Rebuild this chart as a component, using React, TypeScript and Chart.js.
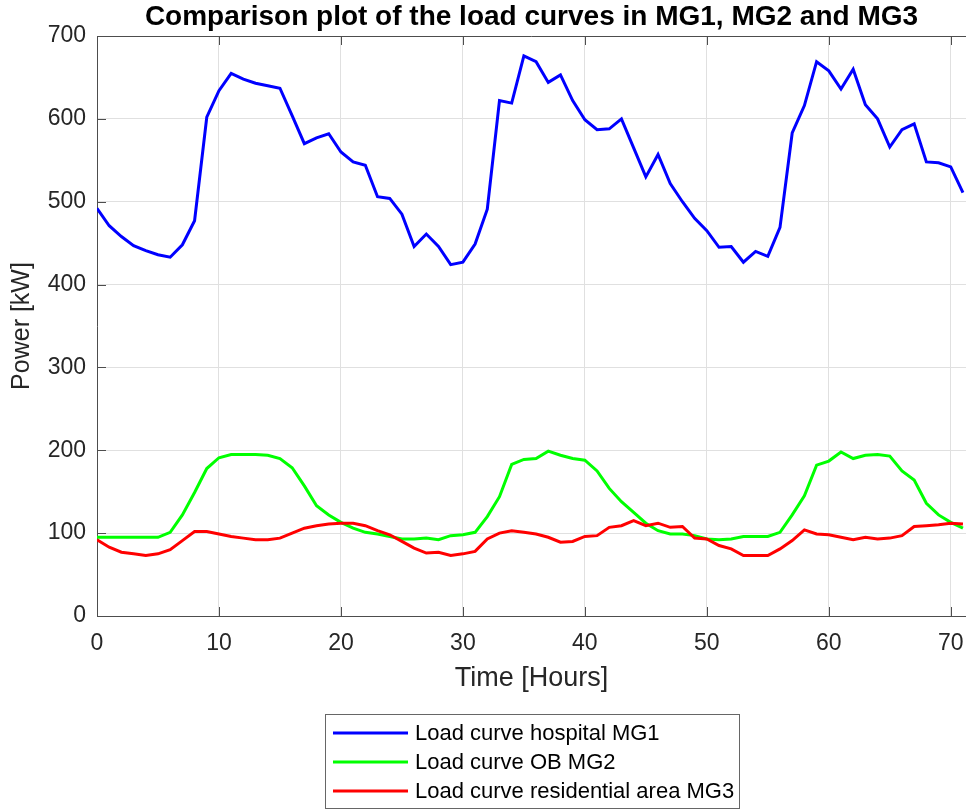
import React, { useEffect, useRef } from "react";
import { Chart, registerables } from "chart.js";

Chart.register(...registerables);

const hours = [
  0, 1, 2, 3, 4, 5, 6, 7, 8, 9, 10, 11, 12, 13, 14, 15, 16, 17, 18, 19, 20, 21, 22, 23,
  24, 25, 26, 27, 28, 29, 30, 31, 32, 33, 34, 35, 36, 37, 38, 39, 40, 41, 42, 43, 44, 45, 46, 47,
  48, 49, 50, 51, 52, 53, 54, 55, 56, 57, 58, 59, 60, 61, 62, 63, 64, 65, 66, 67, 68, 69, 70, 71,
];

const hospitalMG1 = [
  492, 471, 458, 447, 441, 436, 433, 448, 477, 602, 634, 655, 648, 643, 640, 637, 604, 570, 577, 582, 560, 548, 544, 506,
  504, 485, 446, 461, 446, 424, 427, 449, 491, 622, 619, 676, 669, 644, 653, 622, 599, 587, 588, 600, 565, 530, 557, 522,
  500, 480, 465, 445, 446, 427, 440, 434, 469, 583, 616, 669, 658, 636, 660, 617, 600, 566, 587, 594, 548, 547, 542, 511,
];

const officeMG2 = [
  95, 95, 95, 95, 95, 95, 101, 122, 149, 178, 191, 195, 195, 195, 194, 190, 179, 157, 133, 122, 113, 106, 101, 99,
  96, 93, 93, 94, 92, 97, 98, 101, 120, 144, 183, 189, 190, 199, 194, 190, 188, 175, 154, 138, 125, 112, 103, 99,
  99, 97, 93, 92, 93, 96, 96, 96, 101, 122, 145, 182, 187, 198, 190, 194, 195, 193, 175, 164, 136, 122, 113, 106,
];

const residentialMG3 = [
  92, 83, 77, 75, 73, 75, 80, 91, 102, 102, 99, 96, 94, 92, 92, 94, 100, 106, 109, 111, 112, 112, 109, 103,
  98, 90, 82, 76, 77, 73, 75, 78, 93, 100, 103, 101, 99, 95, 89, 90, 96, 97, 107, 109, 115, 109, 112, 107,
  108, 94, 93, 85, 81, 73, 73, 73, 81, 91, 104, 99, 98, 95, 92, 95, 93, 94, 97, 108, 109, 110, 112, 111,
];

const seriesLabels = [
  "Load curve hospital MG1",
  "Load curve OB MG2",
  "Load curve residential area MG3",
];

const chartTitle = "Comparison plot of the load curves in MG1, MG2 and MG3";

const xTickValues = [0, 10, 20, 30, 40, 50, 60, 70];
const yTickValues = [0, 100, 200, 300, 400, 500, 600, 700];

const FONT = "'Liberation Sans', Arial, Helvetica, sans-serif";
const AXIS_COLOR = "#4d4d4d";
const TEXT_COLOR = "#262626";
const GRID_COLOR = "#e0e0e0";

export default function App() {
  const ref = useRef<HTMLCanvasElement>(null);

  useEffect(() => {
    document.body.style.margin = "0";
    const canvas = ref.current;
    if (!canvas) return;

    const toPoints = (vals: number[]) => hours.map((h, i) => ({ x: h, y: vals[i] }));

    const boxPlugin = {
      id: "matlabBox",
      afterDatasetsDraw(chart: any) {
        const { ctx, chartArea: a, scales } = chart;
        ctx.save();
        ctx.strokeStyle = AXIS_COLOR;
        ctx.lineWidth = 1;
        ctx.beginPath();
        ctx.moveTo(a.left, a.top + 0.5);
        ctx.lineTo(a.right, a.top + 0.5);
        scales.x.ticks.forEach((t: any) => {
          const px = Math.round(scales.x.getPixelForValue(t.value)) + 0.5;
          ctx.moveTo(px, a.bottom);
          ctx.lineTo(px, a.bottom - 9);
          ctx.moveTo(px, a.top);
          ctx.lineTo(px, a.top + 9);
        });
        scales.y.ticks.forEach((t: any) => {
          const py = Math.round(scales.y.getPixelForValue(t.value)) + 0.5;
          ctx.moveTo(a.left, py);
          ctx.lineTo(a.left + 9, py);
        });
        ctx.stroke();
        ctx.restore();
      },
      afterDraw(chart: any) {
        const { ctx, chartArea: a } = chart;
        ctx.save();
        // title centred over the plot area
        ctx.fillStyle = "#000000";
        ctx.font = `bold 28px ${FONT}`;
        ctx.textAlign = "center";
        ctx.textBaseline = "middle";
        ctx.fillText(chartTitle, (a.left + a.right) / 2, 17);

        // legend box
        const bx = 325.5, by = 714.5, bw = 414, bh = 94;
        ctx.fillStyle = "#ffffff";
        ctx.fillRect(bx, by, bw, bh);
        ctx.strokeStyle = "#666666";
        ctx.lineWidth = 1;
        ctx.strokeRect(bx, by, bw, bh);
        ctx.font = `22px ${FONT}`;
        ctx.textBaseline = "middle";
        ctx.textAlign = "left";
        chart.data.datasets.forEach((ds: any, i: number) => {
          const y = 733 + i * 29;
          ctx.strokeStyle = ds.borderColor;
          ctx.lineWidth = 3;
          ctx.beginPath();
          ctx.moveTo(333, y);
          ctx.lineTo(408, y);
          ctx.stroke();
          ctx.fillStyle = "#000000";
          ctx.fillText(ds.label, 415, y + 1);
        });
        ctx.restore();
      },
    };

    const chart = new Chart(canvas, {
      type: "line",
      data: {
        datasets: [
          { label: seriesLabels[0], data: toPoints(hospitalMG1), borderColor: "#0000ff", order: 3 },
          { label: seriesLabels[1], data: toPoints(officeMG2), borderColor: "#00ff00", order: 2 },
          { label: seriesLabels[2], data: toPoints(residentialMG3), borderColor: "#ff0000", order: 1 },
        ].map((d) => ({
          ...d,
          borderWidth: 3,
          pointRadius: 0,
          tension: 0,
          fill: false,
        })),
      },
      options: {
        animation: false,
        responsive: false,
        devicePixelRatio: 1,
        layout: { padding: { top: 36, left: 0, right: 0, bottom: 0 } },
        plugins: {
          legend: { display: false },
          tooltip: { enabled: false },
          title: { display: false },
        },
        scales: {
          x: {
            type: "linear",
            min: 0,
            max: 71.25,
            afterBuildTicks: (s: any) => {
              s.ticks = xTickValues.map((v) => ({ value: v }));
            },
            afterFit: (s: any) => {
              s.height = 194;
              s.paddingLeft = 0;
              s.paddingRight = 0;
            },
            ticks: {
              color: TEXT_COLOR,
              font: { family: FONT, size: 23 },
              padding: 14,
              maxRotation: 0,
              autoSkip: false,
            },
            grid: { color: GRID_COLOR, lineWidth: 1, drawTicks: false },
            border: { display: true, color: AXIS_COLOR, width: 1 },
            title: {
              display: true,
              text: "Time [Hours]",
              color: TEXT_COLOR,
              font: { family: FONT, size: 27 },
              padding: { top: 0, bottom: 115 },
            },
          },
          y: {
            type: "linear",
            min: 0,
            max: 700,
            afterBuildTicks: (s: any) => {
              s.ticks = yTickValues.map((v) => ({ value: v }));
            },
            afterFit: (s: any) => {
              s.width = 97;
              s.paddingTop = 0;
              s.paddingBottom = 0;
            },
            ticks: {
              color: TEXT_COLOR,
              font: { family: FONT, size: 23 },
              padding: 11,
              autoSkip: false,
            },
            grid: { color: GRID_COLOR, lineWidth: 1, drawTicks: false },
            border: { display: true, color: AXIS_COLOR, width: 1 },
            title: {
              display: true,
              text: "Power [kW]",
              color: TEXT_COLOR,
              font: { family: FONT, size: 25 },
              padding: { top: 7.5, bottom: 0 },
            },
          },
        },
      },
      plugins: [boxPlugin],
    } as any);

    return () => {
      chart.destroy();
    };
  }, []);

  return (
    <canvas
      ref={ref}
      width={966}
      height={810}
      style={{ display: "block", width: "966px", height: "810px" }}
    />
  );
}
